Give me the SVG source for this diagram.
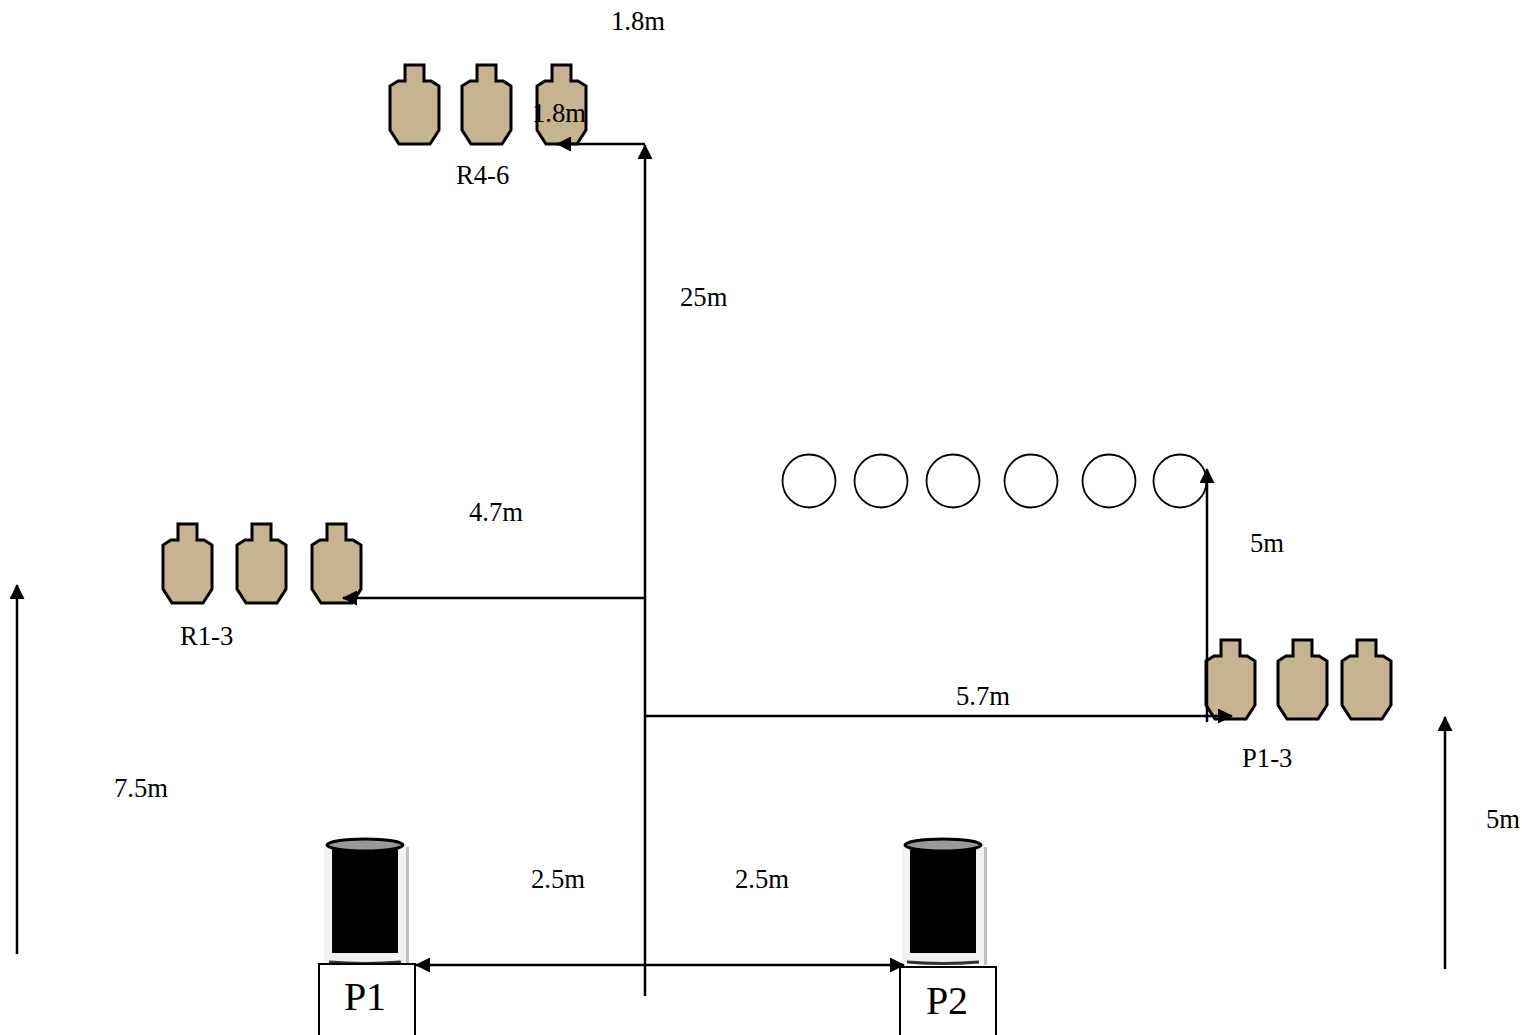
<svg xmlns="http://www.w3.org/2000/svg" width="1536" height="1035" viewBox="0 0 1536 1035">
<style>
text{font-family:"Liberation Serif","Times New Roman",serif;font-size:26.67px;fill:#000}
.big{font-size:40px}
.c{fill:none;stroke:#000;stroke-width:2.5}
.box{fill:#fff;stroke:#000;stroke-width:2}
.ring{fill:#fff;stroke:#000;stroke-width:1.8}
.lid{fill:#999;stroke:#000;stroke-width:3}
</style>
<defs>
<path id="t" d="M15,0H34V16H41L49,21V65L40,79H9L0,65V21L8,16H15Z" fill="#c6b38f" stroke="#000" stroke-width="3" stroke-linejoin="miter"/>
<g id="d">
<rect x="-41" y="3" width="82" height="119" fill="#f2f2f2"/>
<rect x="41" y="7" width="3" height="118" fill="#c0c0c0"/>
<rect x="-33" y="4" width="66" height="109" fill="#000"/>
<path d="M-36,122Q0,125 36,122" fill="none" stroke="#333" stroke-width="3"/>
<ellipse cx="0" cy="5" rx="38" ry="6" class="lid"/>
</g>
<marker id="a" viewBox="0 0 15 15" refX="14" refY="7.5" markerWidth="15" markerHeight="15" markerUnits="userSpaceOnUse" orient="auto-start-reverse"><path d="M0,0L15,7.5L0,15Z"/></marker>
</defs>
<g id="targets-r4-6"><use href="#t" x="390" y="65"/><use href="#t" x="462" y="65"/><use href="#t" x="537" y="65"/></g>
<g id="targets-r1-3"><use href="#t" x="163" y="524"/><use href="#t" x="237" y="524"/><use href="#t" x="312" y="524"/></g>
<g id="targets-p1-3"><use href="#t" x="1206" y="640"/><use href="#t" x="1278" y="640"/><use href="#t" x="1342" y="640"/></g>
<g id="plates">
<circle cx="809" cy="481" r="26.500" class="ring"/><circle cx="881" cy="481" r="26.500" class="ring"/><circle cx="953" cy="481" r="26.500" class="ring"/><circle cx="1031" cy="481" r="26.500" class="ring"/><circle cx="1109" cy="481" r="26.500" class="ring"/><circle cx="1180" cy="481" r="26.500" class="ring"/>
</g>
<g id="p1"><use href="#d" x="365" y="840"/><rect x="319" y="964" width="96" height="80" class="box"/><text class="big" x="365" y="1010" text-anchor="middle">P1</text></g>
<g id="p2"><use href="#d" x="943" y="840"/><rect x="900" y="967" width="96" height="80" class="box"/><text class="big" x="947" y="1014" text-anchor="middle">P2</text></g>
<g id="connectors">
<path class="c" d="M645,996V145" marker-end="url(#a)"/>
<path class="c" d="M645,144H557" marker-end="url(#a)"/>
<path class="c" d="M645,598H343" marker-end="url(#a)"/>
<path class="c" d="M645,716H1232" marker-end="url(#a)"/>
<path class="c" d="M1207,722V469" marker-end="url(#a)"/>
<path class="c" d="M416,965H904" marker-start="url(#a)" marker-end="url(#a)"/>
<path class="c" d="M17,954V585" marker-end="url(#a)"/>
<path class="c" d="M1445,969V717" marker-end="url(#a)"/>
</g>
<g id="labels">
<text x="611" y="30">1.8m</text>
<text x="532" y="122">1.8m</text>
<text x="456" y="184">R4-6</text>
<text x="680" y="306">25m</text>
<text x="469" y="521">4.7m</text>
<text x="180" y="645">R1-3</text>
<text x="1250" y="552">5m</text>
<text x="956" y="705">5.7m</text>
<text x="1242" y="767">P1-3</text>
<text x="114" y="797">7.5m</text>
<text x="1486" y="828">5m</text>
<text x="531" y="888">2.5m</text>
<text x="735" y="888">2.5m</text>
</g>
</svg>
